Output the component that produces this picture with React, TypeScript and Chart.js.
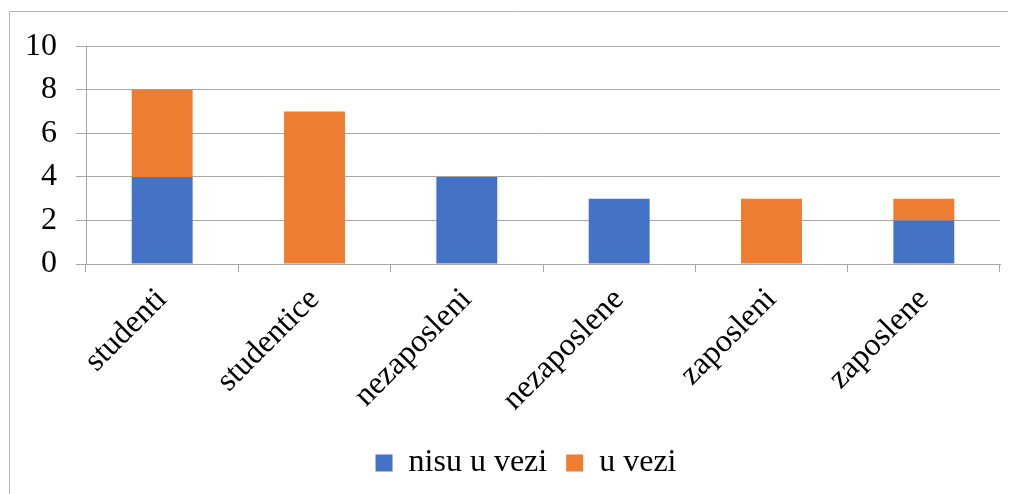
import React, { useEffect, useRef } from "react";
import { Chart, registerables } from "chart.js";

Chart.register(...registerables);

const categories = ["studenti", "studentice", "nezaposleni", "nezaposlene", "zaposleni", "zaposlene"];
const nisuUVezi = [4, 0, 4, 3, 0, 2];
const uVezi = [4, 7, 0, 0, 3, 1];
const seriesNames = ["nisu u vezi", "u vezi"];
const yTicks = [0, 2, 4, 6, 8, 10];

const FONT = "'Liberation Serif', 'Times New Roman', serif";
const GRID = "#a6a6a6";

const frame = {
  id: "frame",
  afterLayout(chart: any) {
    if (chart.legend) {
      chart.legend.left += 22;
      chart.legend.right += 22;
    }
  },
  beforeDraw(chart: any) {
    const ctx = chart.ctx;
    ctx.save();
    ctx.strokeStyle = "#b4b4b4";
    ctx.lineWidth = 1;
    ctx.beginPath();
    ctx.moveTo(1.5, chart.height);
    ctx.lineTo(1.5, 3.5);
    ctx.lineTo(chart.width, 3.5);
    ctx.stroke();
    ctx.restore();
  },
};

export default function App() {
  const ref = useRef<HTMLCanvasElement>(null);
  useEffect(() => {
    if (!ref.current) return;
    const chart = new Chart(ref.current, {
      type: "bar",
      data: {
        labels: categories,
        datasets: [
          { label: seriesNames[0], data: nisuUVezi, backgroundColor: "#4472C4", barPercentage: 0.4, categoryPercentage: 1 },
          { label: seriesNames[1], data: uVezi, backgroundColor: "#ED7D31", barPercentage: 0.4, categoryPercentage: 1 },
        ],
      },
      options: {
        animation: false,
        responsive: false,
        maintainAspectRatio: false,
        layout: { padding: { left: 0, right: 16, top: 34, bottom: 5 } },
        plugins: {
          tooltip: { enabled: false },
          legend: {
            position: "bottom",
            labels: {
              boxWidth: 17,
              boxHeight: 17,
              padding: 19,
              color: "#000",
              font: { family: FONT, size: 32 },
            },
          },
        },
        scales: {
          x: {
            stacked: true,
            offset: true,
            grid: { offset: true, drawOnChartArea: false, drawTicks: true, tickLength: 8, color: GRID },
            border: { display: true, color: GRID },
            ticks: { minRotation: 45, maxRotation: 45, color: "#000", padding: 9, font: { family: FONT, size: 32 } },
            afterFit(scale: any) { scale.height = 164; },
          },
          y: {
            stacked: true,
            min: 0,
            max: 10,
            grid: { color: GRID, tickLength: 10 },
            border: { display: true, color: GRID },
            afterBuildTicks(scale: any) { scale.ticks = yTicks.map((v) => ({ value: v })); },
            ticks: { color: "#000", padding: 19, font: { family: FONT, size: 32 } },
            afterFit(scale: any) { scale.width = 78; },
          },
        },
      },
      plugins: [frame],
    });
    return () => chart.destroy();
  }, []);
  return <canvas ref={ref} width={1008} height={486} style={{ display: "block" }} />;
}
